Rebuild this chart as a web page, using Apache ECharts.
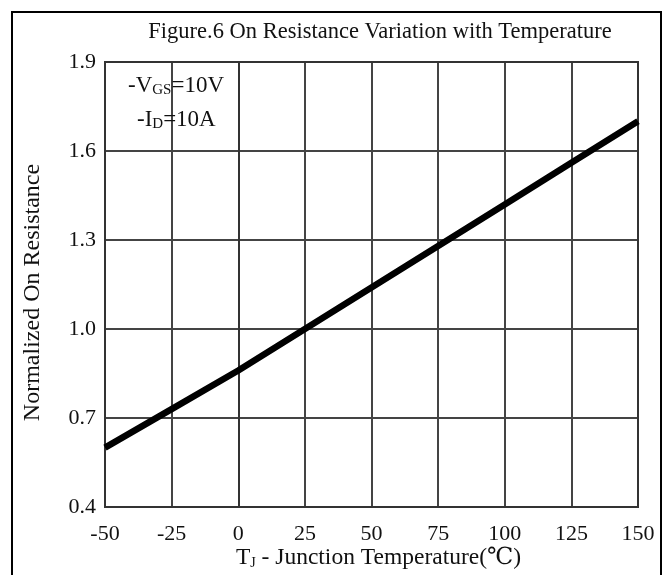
<!DOCTYPE html>
<html><head><meta charset="utf-8">
<script src="https://cdn.jsdelivr.net/npm/echarts@6/dist/echarts.min.js"></script>
<style>html,body{margin:0;padding:0;background:#fff}#c{width:671px;height:575px}</style>
</head><body><div id="c"></div>
<script>
const temps = [-50, -25, 0, 25, 50, 75, 100, 125, 150];
const resistance = [0.60, 0.73, 0.86, 1.00, 1.14, 1.28, 1.42, 1.56, 1.70];
const yTicks = [0.4, 0.7, 1.0, 1.3, 1.6, 1.9];
const titleText = 'Figure.6 On Resistance Variation with Temperature';
const xName = 'T{s|J} - Junction Temperature(℃)';
const yName = 'Normalized On Resistance';

const serif = '"Liberation Serif","DejaVu Serif",serif';
const chart = echarts.init(document.getElementById('c'), null, {renderer: 'canvas'});
chart.setOption({
  animation: false,
  title: {text: titleText, left: 375, textAlign: 'center', top: 16,
    textStyle: {fontFamily: serif, fontSize: 22.5, fontWeight: 'normal', color: '#111'}},
  grid: {left: 105, right: 33, top: 62, bottom: 68, outerBoundsMode: 'none', containLabel: false},
  xAxis: {type: 'value', min: -50, max: 150, interval: 25,
    name: xName, nameLocation: 'middle', nameGap: 39, nameMoveOverlap: false,
    nameTextStyle: {fontFamily: serif, fontSize: 23.5, color: '#111', padding: [0, 0, 0, 14],
      rich: {s: {fontFamily: serif, fontSize: 14, verticalAlign: 'bottom', padding: [9,0,0,0]}}},
    axisLine: {show: true, lineStyle: {color: '#333', width: 2}},
    axisTick: {show: false},
    axisLabel: {fontFamily: serif, fontSize: 22, color: '#111', margin: 16},
    splitLine: {show: true, lineStyle: {color: '#444', width: 2}}},
  yAxis: {type: 'value', min: 0.4, max: 1.9, interval: 0.3,
    name: yName, nameLocation: 'middle', nameGap: 60, nameRotate: 90, nameMoveOverlap: false,
    nameTextStyle: {fontFamily: serif, fontSize: 24, color: '#111', padding: [0, 16, 0, 0]},
    axisLine: {show: true, lineStyle: {color: '#333', width: 2}},
    axisTick: {show: false},
    axisLabel: {fontFamily: serif, fontSize: 22, color: '#111', margin: 9,
      formatter: v => v.toFixed(1)},
    splitLine: {show: true, lineStyle: {color: '#444', width: 2}}},
  series: [{type: 'line', data: temps.map((t, i) => [t, resistance[i]]),
    symbol: 'none', lineStyle: {color: '#000', width: 6.5}, z: 5}],
  graphic: [
    {type: 'rect', shape: {x: 12, y: 12, width: 649, height: 580},
      style: {fill: 'none', stroke: '#000', lineWidth: 2}, silent: true},
    {type: 'rect', shape: {x: 105, y: 62, width: 533, height: 445},
      style: {fill: 'none', stroke: '#333', lineWidth: 2}, z: 3, silent: true},
    {type: 'text', left: 128, top: 74, z: 10,
      style: {text: '-V{s|GS}=10V', fill: '#111', font: '23px ' + serif,
        rich: {s: {fontFamily: serif, fontSize: 15, padding: [9,0,0,0]}}}},
    {type: 'text', left: 137, top: 108, z: 10,
      style: {text: '-I{s|D}=10A', fill: '#111', font: '23px ' + serif,
        rich: {s: {fontFamily: serif, fontSize: 15, padding: [9,0,0,0]}}}}
  ]
});
</script></body></html>
